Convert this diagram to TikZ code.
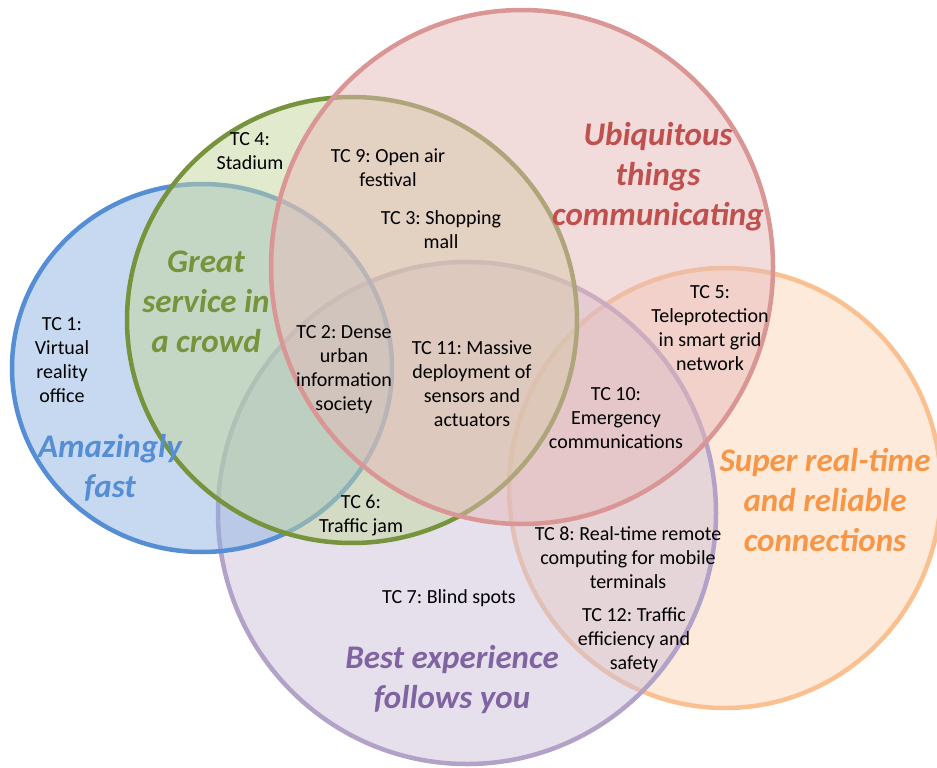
\documentclass[tikz,border=0pt]{standalone}
\usepackage{fontspec}
\setmainfont{Carlito}
\frenchspacing
\definecolor{bline}{HTML}{558ED5}\definecolor{bfill}{HTML}{8DB3E2}
\definecolor{gline}{HTML}{77933C}\definecolor{gfill}{HTML}{C3D69B}
\definecolor{rline}{HTML}{D99694}\definecolor{rfill}{HTML}{E6B9B8}
\definecolor{pline}{HTML}{B3A2C7}\definecolor{pfill}{HTML}{CCC1DA}
\definecolor{oline}{HTML}{FAC090}\definecolor{ofill}{HTML}{FCD5B5}
\definecolor{btext}{HTML}{558ED5}\definecolor{gtext}{HTML}{77933C}
\definecolor{rtext}{HTML}{C0504D}\definecolor{otext}{HTML}{F79646}
\definecolor{ptext}{HTML}{8064A2}
\tikzset{
  setfill/.style={fill=#1, fill opacity=0.5, draw=none},
  setline/.style={draw=#1, line width=4.5pt},
  tc/.style={align=center, inner sep=0pt, font=\fontsize{20}{24}\selectfont},
  cat/.style={align=center, inner sep=0pt, text=#1, font=\fontsize{33}{40}\selectfont\bfseries\itshape},
}
\begin{document}
\begin{tikzpicture}[x=1pt,y=-1pt]
\useasboundingbox (0,0) rectangle (937,768);
\clip (0,0) rectangle (937,768);
% orange
\fill[setfill=ofill] (725,488) ellipse [x radius=216pt, y radius=220pt];
\draw[setline=oline] (725,488) ellipse [x radius=216pt, y radius=220pt];
% purple
\fill[setfill=pfill] (467,513) ellipse [x radius=249pt, y radius=251pt];
\draw[setline=pline] (467,513) ellipse [x radius=249pt, y radius=251pt];
% blue
\fill[setfill=bfill] (202,368) ellipse [x radius=190pt, y radius=184pt];
\draw[setline=bline] (202,368) ellipse [x radius=190pt, y radius=184pt];
% green
\fill[setfill=gfill] (352,320) ellipse [x radius=225pt, y radius=223pt];
\draw[setline=gline] (352,320) ellipse [x radius=225pt, y radius=223pt];
% red
\fill[setfill=rfill] (522,267) ellipse [x radius=251pt, y radius=257pt];
\draw[setline=rline] (522,267) ellipse [x radius=251pt, y radius=257pt];

% category labels
\node[cat=btext] (fast) at (110,468) {Amazingly\\fast};
\node[cat=gtext] (crowd) at (206,302) {Great\\service in\\a crowd};
\node[cat=rtext] (ubiq) at (658,177) {Ubiquitous\\things\\communicating};
\node[cat=otext] (real) at (825,500) {Super real-time\\and reliable\\connections};
\node[cat=ptext] (best) at (452,680) {Best experience\\follows you};

% test cases
\node[tc] (tc1) at (62,360) {TC 1:\\Virtual\\reality\\office};
\node[tc] (tc4) at (250,151) {TC 4:\\Stadium};
\node[tc] (tc9) at (388,168) {TC 9: Open air\\festival};
\node[tc] (tc3) at (441,230) {TC 3: Shopping\\mall};
\node[tc] (tc2) at (344,370) {TC 2: Dense\\urban\\information\\society};
\node[tc] (tc11) at (472,384) {TC 11: Massive\\deployment of\\sensors and\\actuators};
\node[tc] (tc5) at (710,328) {TC 5:\\Teleprotection\\in smart grid\\network};
\node[tc] (tc10) at (616,418) {TC 10:\\Emergency\\communications};
\node[tc] (tc6) at (361,515) {TC 6:\\Traffic jam};
\node[tc] (tc8) at (628,558) {TC 8: Real-time remote\\computing for mobile\\terminals};
\node[tc] (tc7) at (449,598) {TC 7: Blind spots};
\node[tc] (tc12) at (634,640) {TC 12: Traffic\\efficiency and\\safety};
\end{tikzpicture}
\end{document}
